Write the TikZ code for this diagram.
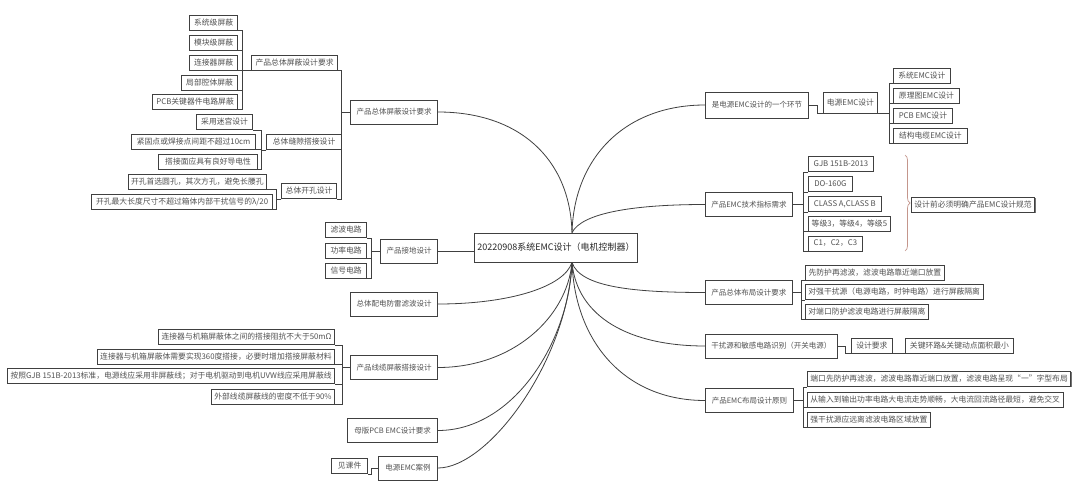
\documentclass[tikz,border=0pt]{standalone}
\usepackage{fontspec}
\usepackage{xcolor}
\usepackage{tikz}
\usetikzlibrary{decorations.pathreplacing, shadows}
\newfontfamily\cjk{Noto Sans CJK SC}
\definecolor{braceclr}{RGB}{196,150,140}

\begin{document}
\begin{tikzpicture}[
    x=1pt, y=-1pt,
    box/.style={rectangle, draw=black!75, line width=0.8pt, fill=white, inner xsep=3pt, inner ysep=1pt, text=black!68,
        general shadow={fill=black!55, shadow xshift=0.8pt, shadow yshift=-0.8pt}},
    root/.style={box, minimum height=29pt, font=\cjk\fontsize{9}{11}\selectfont, text=black!85},
    topic/.style={box, minimum height=24pt, font=\cjk\fontsize{7.5}{9}\selectfont},
    leaf/.style={box, minimum height=15pt, font=\cjk\fontsize{7.8}{9}\selectfont},
    branch/.style={draw=black!75, line width=0.8pt},
    brace/.style={decorate, decoration={brace, amplitude=5pt}, draw=braceclr, line width=0.7pt}
]
    \fill[white] (0,0) rectangle (1080,495);
    \useasboundingbox (0,0) rectangle (1080,495);

    \node[root, minimum width=158pt] (root) at (556,247.5) {20220908系统EMC设计（电机控制器）};
    \coordinate (hubT) at ([xshift=16pt]root.north);
    \coordinate (hubB) at ([xshift=16pt]root.south);

    % left topics
    \node[topic, anchor=east, minimum width=87pt] (shield) at (438,112) {产品总体屏蔽设计要求};
    \node[topic, anchor=east, minimum width=57pt] (ground) at (438,251) {产品接地设计};
    \node[topic, anchor=east, minimum width=87pt] (surge) at (438,304) {总体配电防雷滤波设计};
    \node[topic, anchor=east, minimum width=87pt] (cable) at (438,367.5) {产品线缆屏蔽搭接设计};
    \node[topic, anchor=east, minimum width=90pt] (board) at (438,430.5) {母版PCB EMC设计要求};
    \node[topic, anchor=east, minimum width=59pt] (demo) at (438,468) {电源EMC案例};

    \node[leaf, anchor=east, minimum width=86pt] (shieldReq) at (338,62.5) {产品总体屏蔽设计要求};
    \node[leaf, anchor=east, minimum width=75pt] (gap) at (342,142) {总体缝隙搭接设计};
    \node[leaf, anchor=east, minimum width=55pt] (hole) at (337,191) {总体开孔设计};

    \node[leaf, anchor=east, minimum width=48pt] (sysS) at (238,22.5) {系统级屏蔽};
    \node[leaf, anchor=east, minimum width=48pt] (modS) at (238,42.5) {模块级屏蔽};
    \node[leaf, anchor=east, minimum width=48pt] (conS) at (238,62.5) {连接器屏蔽};
    \node[leaf, anchor=east, minimum width=56pt] (cavS) at (238,82.5) {局部腔体屏蔽};
    \node[leaf, anchor=east, minimum width=85pt] (pcbS) at (238,101.5) {PCB关键器件电路屏蔽};

    \node[leaf, anchor=east, minimum width=56pt] (maze) at (253,122) {采用迷宫设计};
    \node[leaf, anchor=east, minimum width=124pt] (weld) at (256,141.5) {紧固点或焊接点间距不超过10cm};
    \node[leaf, anchor=east, minimum width=99pt] (cond) at (258,161.5) {搭接面应具有良好导电性};

    \node[leaf, anchor=east, minimum width=138pt] (round) at (267,181.5) {开孔首选圆孔，其次方孔，避免长腰孔};
    \node[leaf, anchor=east, minimum width=181pt] (slot) at (273,201.5) {开孔最大长度尺寸不超过箱体内部干扰信号的λ/20};

    \node[leaf, anchor=east, minimum width=41pt] (filt) at (367,230) {滤波电路};
    \node[leaf, anchor=east, minimum width=41pt] (power) at (367,250.5) {功率电路};
    \node[leaf, anchor=east, minimum width=41pt] (signal) at (367,270.5) {信号电路};

    \node[leaf, anchor=east, minimum width=172pt] (bond) at (335,337) {连接器与机箱屏蔽体之间的搭接阻抗不大于50mΩ};
    \node[leaf, anchor=east, minimum width=230pt] (ring) at (335,356.5) {连接器与机箱屏蔽体需要实现360度搭接，必要时增加搭接屏蔽材料};
    \node[leaf, anchor=east, minimum width=321pt] (gjb) at (335,376) {按照GJB 151B-2013标准，电源线应采用非屏蔽线；对于电机驱动到电机UVW线应采用屏蔽线};
    \node[leaf, anchor=east, minimum width=122pt] (dens) at (335,396.5) {外部线缆屏蔽线的密度不低于90\%};

    \node[leaf, anchor=east, minimum width=36pt] (slides) at (368,466) {见课件};

    % right topics
    \node[topic, anchor=west, minimum width=103pt, minimum height=26pt] (link) at (705,105) {是电源EMC设计的一个环节};
    \node[topic, anchor=west, minimum width=87pt] (spec) at (705,204.5) {产品EMC技术指标需求};
    \node[topic, anchor=west, minimum width=87pt] (layout) at (705,292.5) {产品总体布局设计要求};
    \node[topic, anchor=west, minimum width=132pt] (noise) at (705,346) {干扰源和敏感电路识别（开关电源）};
    \node[topic, anchor=west, minimum width=88pt] (rule) at (705,400.5) {产品EMC布局设计原则};

    \node[leaf, anchor=west, minimum width=54pt, minimum height=21pt] (pwr) at (823,102.5) {电源EMC设计};
    \node[leaf, anchor=west, minimum width=57pt] (sysE) at (893,76) {系统EMC设计};
    \node[leaf, anchor=west, minimum width=66pt] (schE) at (893,95.5) {原理图EMC设计};
    \node[leaf, anchor=west, minimum width=59pt] (pcbE) at (893,115.5) {PCB EMC设计};
    \node[leaf, anchor=west, minimum width=74pt] (strE) at (893,135.5) {结构电缆EMC设计};

    \node[leaf, anchor=west, minimum width=65pt] (stdGjb) at (808,164) {GJB 151B-2013};
    \node[leaf, anchor=west, minimum width=44pt] (stdDo) at (808,184) {DO-160G};
    \node[leaf, anchor=west, minimum width=73pt] (stdCls) at (808,204) {CLASS A,CLASS B};
    \node[leaf, anchor=west, minimum width=82pt] (stdLvl) at (808,223.5) {等级3，等级4，等级5};
    \node[leaf, anchor=west, minimum width=54pt] (stdC) at (808,243.5) {C1，C2，C3};
    \node[leaf, anchor=west, minimum width=122pt] (norm) at (911,204.5) {设计前必须明确产品EMC设计规范};
    \coordinate (braceTop) at (905,155);
    \coordinate (braceBot) at (905,251);

    \node[leaf, anchor=west, minimum width=139pt] (lay1) at (805,272.5) {先防护再滤波，滤波电路靠近端口放置};
    \node[leaf, anchor=west, minimum width=177pt] (lay2) at (805,292) {对强干扰源（电源电路，时钟电路）进行屏蔽隔离};
    \node[leaf, anchor=west, minimum width=123pt] (lay3) at (805,311.5) {对端口防护滤波电路进行屏蔽隔离};

    \node[leaf, anchor=west, minimum width=41pt] (req) at (851,345.5) {设计要求};
    \node[leaf, anchor=west, minimum width=108pt] (loop) at (905,345.5) {关键环路\&关键动点面积最小};

    \node[leaf, anchor=west, minimum width=258pt] (rule1) at (807,379) {端口先防护再滤波，滤波电路靠近端口放置，滤波电路呈现“一”字型布局};
    \node[leaf, anchor=west, minimum width=245pt] (rule2) at (807,399.5) {从输入到输出功率电路大电流走势顺畅，大电流回流路径最短，避免交叉};
    \node[leaf, anchor=west, minimum width=123pt] (rule3) at (807,419.5) {强干扰源应远离滤波电路区域放置};

    % curved branches from the root
    \draw[branch] (hubT) .. controls +(-2,-75) and +(80,0) .. (shield.east);
    \draw[branch] (hubT) .. controls +(2,-75) and +(-80,0) .. (link.west);
    \draw[branch] (hubT) .. controls +(10,-20) and +(-70,0) .. (spec.west);
    \draw[branch] (ground.east) -- (ground.east -| root.west);
    \draw[branch] (hubB) .. controls +(-8,25) and +(70,0) .. (surge.east);
    \draw[branch] (hubB) .. controls +(-5,55) and +(75,0) .. (cable.east);
    \draw[branch] (hubB) .. controls +(-3,80) and +(75,0) .. (board.east);
    \draw[branch] (hubB) .. controls +(-5,100) and +(50,0) .. (demo.east);
    \draw[branch] (hubB) .. controls +(8,25) and +(-70,0) .. (layout.west);
    \draw[branch] (hubB) .. controls +(5,55) and +(-75,0) .. (noise.west);
    \draw[branch] (hubB) .. controls +(3,80) and +(-80,0) .. (rule.west);

    % elbow branches
    \foreach \c in {shieldReq,gap,hole}
        \draw[branch] (shield.west) -- ++(-9,0) |- (\c.south east);
    \foreach \c in {sysS,modS,conS,cavS,pcbS}
        \draw[branch] (shieldReq.south west) -- ++(-9,0) |- (\c.south east);
    \foreach \c in {maze,weld,cond}
        \draw[branch] (gap.south west) -- ++(-5,0) |- (\c.south east);
    \foreach \c in {round,slot}
        \draw[branch] (hole.south west) -- ++(-5,0) |- (\c.south east);
    \foreach \c in {filt,power,signal}
        \draw[branch] (ground.west) -- ++(-9,0) |- (\c.south east);
    \foreach \c in {bond,ring,gjb,dens}
        \draw[branch] (cable.west) -- ++(-8,0) |- (\c.south east);
    \draw[branch] (demo.west) -- ++(-7,0) |- (slides.south east);

    \draw[branch] (link.east) -- ++(9,0) |- (pwr.south west);
    \foreach \c in {sysE,schE,pcbE,strE}
        \draw[branch] (pwr.south east) -- ++(12,0) |- (\c.south west);
    \foreach \c in {stdGjb,stdDo,stdCls,stdLvl,stdC}
        \draw[branch] (spec.east) -- ++(11,0) |- (\c.south west);
    \foreach \c in {lay1,lay2,lay3}
        \draw[branch] (layout.east) -- ++(9,0) |- (\c.south west);
    \draw[branch] (noise.east) -- ++(8,0) |- (req.south west);
    \draw[branch] (req.south east) -- (loop.south west);
    \foreach \c in {rule1,rule2,rule3}
        \draw[branch] (rule.east) -- ++(10,0) |- (\c.south west);

    \draw[brace] (braceTop) -- (braceBot);
\end{tikzpicture}
\end{document}
